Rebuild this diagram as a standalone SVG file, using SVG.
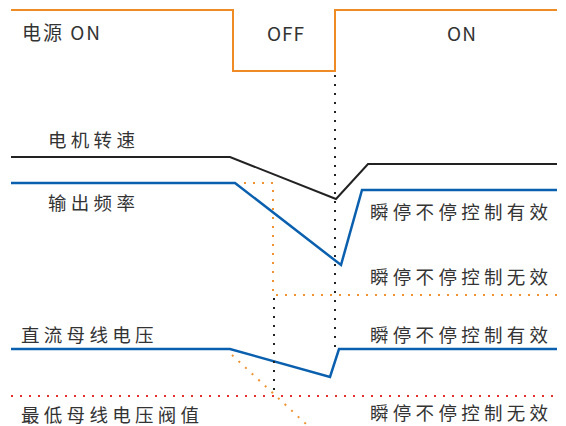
<svg xmlns="http://www.w3.org/2000/svg" width="566" height="426" viewBox="0 0 566 426">
<style>
.t{font-family:"Noto Sans CJK SC","Noto Sans",sans-serif;fill:#333;font-size:18.5px;letter-spacing:4.3px}
.l{font-family:"Noto Sans CJK SC","Noto Sans",sans-serif;fill:#333;font-size:19px;letter-spacing:1px}
.sol{fill:none;stroke-linejoin:miter}
.dot{fill:none;stroke-width:2;stroke-dasharray:2 7}
</style>
<rect width="566" height="426" fill="#fff"/>
<g id="labels">
<text class="l" x="22" y="39.5" style="letter-spacing:2px">电源 ON</text>
<text class="l" x="286" y="41" text-anchor="middle">OFF</text>
<text class="l" x="462" y="41" text-anchor="middle">ON</text>
<text class="t" x="48" y="147">电机转速</text>
<text class="t" x="48" y="210">输出频率</text>
<text class="t" x="21" y="342">直流母线电压</text>
<text class="t" x="21" y="422">最低母线电压阀值</text>
<text class="t" x="370" y="219">瞬停不停控制有效</text>
<text class="t" x="370" y="284">瞬停不停控制无效</text>
<text class="t" x="370" y="342">瞬停不停控制有效</text>
<text class="t" x="370" y="420">瞬停不停控制无效</text>
</g>
<g id="connectors">
<polyline id="power" class="sol" stroke="#EE8B25" stroke-width="2" points="11,10 233,10 233,71 335,71 335,10 557,10"/>
<polyline id="speed" class="sol" stroke="#222" stroke-width="2" points="11,157 230,157 336,199 368,164 557,164"/>
<polyline id="freq" class="sol" stroke="#0A60AE" stroke-width="2.5" points="11,183 235,183 341,265 362,190 557,190"/>
<polyline id="bus" class="sol" stroke="#0A60AE" stroke-width="2.5" points="11,349 230,349 330,377 339,349 557,349"/>
<line class="dot" stroke="#222" x1="335" y1="75" x2="335" y2="348"/>
<line class="dot" stroke="#222" x1="274" y1="298" x2="274" y2="394"/>
<polyline class="dot" stroke="#F0922F" points="244,183 273,183 273,295 557,295"/>
<line class="dot" stroke="#F0922F" x1="232" y1="355" x2="306" y2="424"/>
<line class="dot" stroke="#E53030" x1="11" y1="396" x2="557" y2="396"/>
</g>
</svg>
